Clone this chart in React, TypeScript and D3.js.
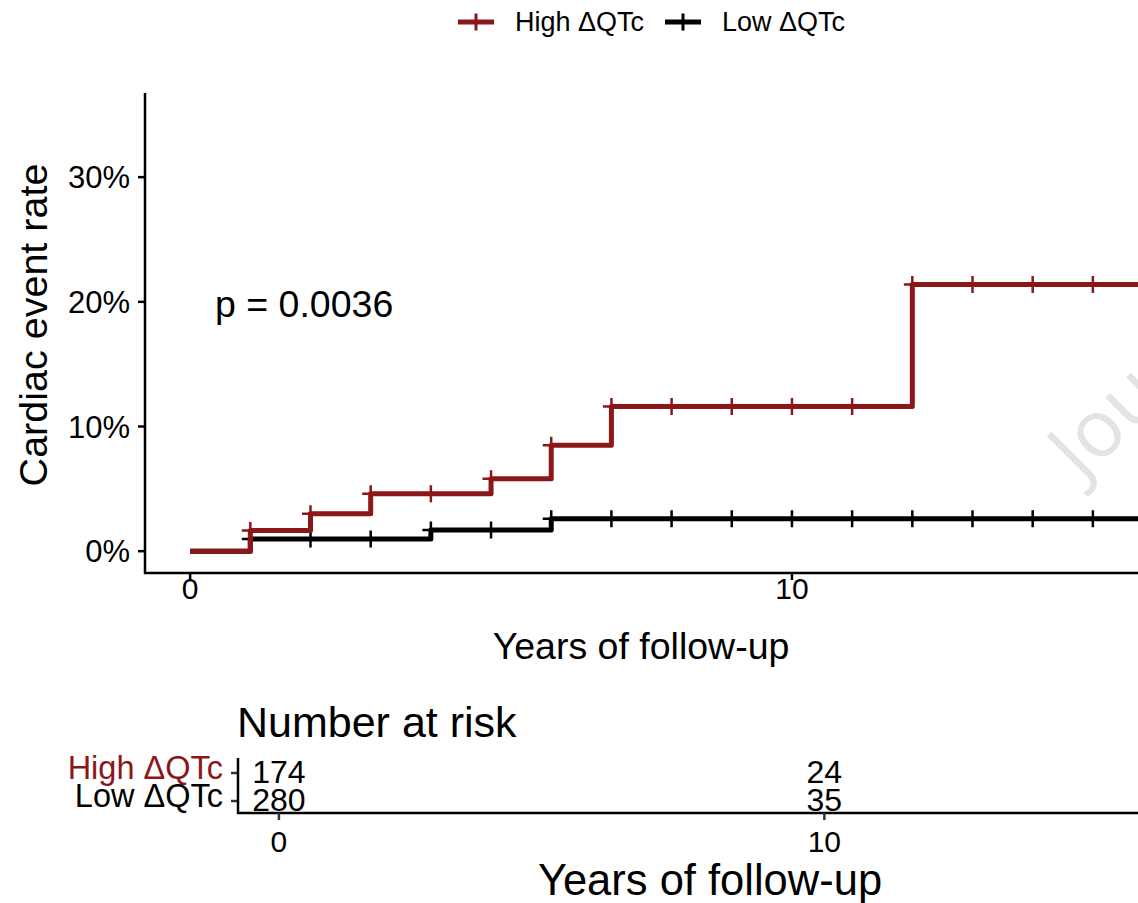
import React from 'react';
import * as d3 from 'd3';

// cumulative event rate, step times (years) and values
const highTimes = [0, 1, 2, 3, 5, 6, 7, 12];
const highRates = [0, 0.0166, 0.030, 0.046, 0.058, 0.085, 0.116, 0.214];
const lowTimes = [0, 1, 4, 6];
const lowRates = [0, 0.0098, 0.017, 0.026];
const censorTimes = [1, 2, 3, 4, 5, 6, 7, 8, 9, 10, 11, 12, 13, 14, 15];
const lastFollowUp = 16;

const groups = ['High ΔQTc', 'Low ΔQTc'];
const groupColors = ['#8B171A', '#000000'];

const yTicks = [0, 0.1, 0.2, 0.3];
const xTicks = [0, 10];
const riskHigh = [174, 24];
const riskLow = [280, 35];

const pLabel = 'p = 0.0036';

const W = 1138;
const H = 903;
const font = '"Liberation Sans", Arial, sans-serif';

const x = d3.scaleLinear().domain([-0.75, 15.75]).range([145, 1138]);
const y = d3.scaleLinear().domain([-0.0175, 0.3675]).range([573, 93]);
const xr = d3.scaleLinear().domain([-0.75, 15.75]).range([238, 1138]);
const yr = d3.scaleBand().domain(groups).range([756, 812]).padding(0);

const stepLine = d3
  .line<[number, number]>()
  .x((d) => x(d[0]))
  .y((d) => y(d[1]))
  .curve(d3.curveStepAfter);

const seriesPoints = (times: number[], rates: number[]): [number, number][] => {
  const pts: [number, number][] = times.map((t, i) => [t, rates[i]]);
  pts.push([lastFollowUp, rates[rates.length - 1]]);
  return pts;
};

const valueAt = (times: number[], rates: number[], t: number) => rates[d3.bisectRight(times, t) - 1];

const plus = 'M-8.5,0H8.5M0,-8.5V8.5';

const series = [
  { name: groups[0], color: groupColors[0], times: highTimes, rates: highRates },
  { name: groups[1], color: groupColors[1], times: lowTimes, rates: lowRates },
];

export default function App() {
  return (
    <svg
      width={W}
      height={H}
      style={{ position: 'absolute', left: 0, top: 0, background: '#fff', fontFamily: font }}
    >
      <defs>
        <clipPath id="panel">
          <rect x={145} y={93} width={993} height={480} />
        </clipPath>
      </defs>

      {/* legend */}
      {series.map((s, i) => {
        const lx = i === 0 ? 458 : 665;
        return (
          <g key={s.name}>
            <line x1={lx} x2={lx + 36} y1={22} y2={22} stroke={s.color} strokeWidth={5} />
            <path d={plus} transform={`translate(${lx + 18},22)`} stroke={s.color} strokeWidth={3} />
            <text x={lx + 57} y={31} fontSize={27}>
              {s.name}
            </text>
          </g>
        );
      })}

      {/* watermark */}
      <g clipPath="url(#panel)">
        <text
          transform="translate(1082,482) rotate(-45)"
          fontFamily='"Open Sans", sans-serif'
          fontSize={80}
          fill="#e3e3e3"
        >
          Journal Pre-proof
        </text>
      </g>

      {/* curves */}
      <g clipPath="url(#panel)">
        {series
          .slice()
          .reverse()
          .map((s) => (
            <g key={s.name}>
              <path
                d={stepLine(seriesPoints(s.times, s.rates)) || ''}
                fill="none"
                stroke={s.color}
                strokeWidth={5}
                strokeLinejoin="round"
              />
              {censorTimes.map((t) => (
                <path
                  key={t}
                  d={plus}
                  transform={`translate(${x(t)},${y(valueAt(s.times, s.rates, t))})`}
                  stroke={s.color}
                  strokeWidth={2.5}
                />
              ))}
            </g>
          ))}
      </g>

      <text x={215} y={317} fontSize={37.5}>
        {pLabel}
      </text>

      {/* axes */}
      <line x1={145} x2={145} y1={93} y2={574} stroke="#000" strokeWidth={2.5} />
      <line x1={144} x2={1138} y1={573} y2={573} stroke="#000" strokeWidth={2.5} />
      {yTicks.map((v) => (
        <g key={v}>
          <line x1={138} x2={145} y1={y(v)} y2={y(v)} stroke="#000" strokeWidth={2.5} />
          <text x={130} y={y(v)} dy="0.36em" textAnchor="end" fontSize={31}>
            {d3.format('.0%')(v)}
          </text>
        </g>
      ))}
      {xTicks.map((v) => (
        <g key={v}>
          <line x1={x(v)} x2={x(v)} y1={573} y2={580} stroke="#000" strokeWidth={2.5} />
          <text x={x(v)} y={599} textAnchor="middle" fontSize={30}>
            {v}
          </text>
        </g>
      ))}
      <text x={641} y={659} textAnchor="middle" fontSize={37.5}>
        Years of follow-up
      </text>
      <text transform="translate(47,325) rotate(-90)" textAnchor="middle" fontSize={39.5}>
        Cardiac event rate
      </text>

      {/* risk table */}
      <text x={237} y={737} fontSize={43}>
        Number at risk
      </text>
      {groups.map((g, i) => {
        const cy = (yr(g) || 0) + yr.bandwidth() / 2;
        const vals = i === 0 ? riskHigh : riskLow;
        return (
          <g key={g}>
            <line x1={231} x2={238} y1={cy + 3} y2={cy + 3} stroke="#333" strokeWidth={2.5} />
            <text x={223} y={cy - 3} dy="0.36em" textAnchor="end" fontSize={32.5} fill={groupColors[i]}>
              {g}
            </text>
            {xTicks.map((t, j) => (
              <text key={t} x={xr(t)} y={cy + 1} dy="0.36em" textAnchor="middle" fontSize={32}>
                {vals[j]}
              </text>
            ))}
          </g>
        );
      })}
      <line x1={238} x2={238} y1={758} y2={814} stroke="#000" strokeWidth={2.5} />
      <line x1={237} x2={1138} y1={813} y2={813} stroke="#000" strokeWidth={2.5} />
      {xTicks.map((v) => (
        <g key={v}>
          <line x1={xr(v)} x2={xr(v)} y1={813} y2={820} stroke="#333" strokeWidth={2.5} />
          <text x={xr(v)} y={852} textAnchor="middle" fontSize={30}>
            {v}
          </text>
        </g>
      ))}
      <text x={710} y={895} textAnchor="middle" fontSize={43.5}>
        Years of follow-up
      </text>
    </svg>
  );
}
